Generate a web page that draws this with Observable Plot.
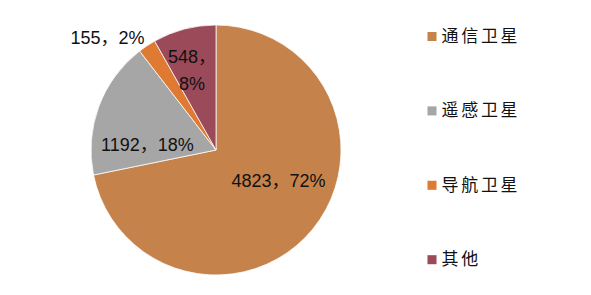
<!DOCTYPE html>
<html>
<head>
<meta charset="utf-8">
<script src="https://cdn.jsdelivr.net/npm/d3@7"></script>
<script src="https://cdn.jsdelivr.net/npm/@observablehq/plot@0.6"></script>
<style>
  html, body { margin: 0; padding: 0; background: #fff; }
</style>
</head>
<body>
<div id="chart"></div>
<script>
const categories = ["通信卫星", "遥感卫星", "导航卫星", "其他"];
const counts = [4823, 1192, 155, 548];
const percents = [72, 18, 2, 8];
const palette = ["#C5834B", "#A6A6A6", "#DF7A33", "#9B4A5A"];

const W = 591, H = 295;
const CX = 216, CY = 150, R = 125;

const data = categories.map((c, i) => ({category: c, value: counts[i], pct: percents[i]}));
const arcs = d3.pie().sort(null).value(d => d.value)(data);

// label placement (angle clockwise from top in degrees, radius factor)
const labelPlace = {
  "通信卫星": [114.3, 0.544],
  "遥感卫星": [276.6, 0.556],
  "导航卫星": [316.5, 1.267],
  "其他": [343.5, 0.69]
};
const labels = data.map(d => {
  const [a, rf] = labelPlace[d.category];
  const t = a * Math.PI / 180;
  const text = d.category === "其他" ? `${d.value}，\n${d.pct}%` : `${d.value}，${d.pct}%`;
  return {x: rf * Math.sin(t), y: rf * Math.cos(t), text};
});

const legendX = (431.5 - CX) / R;
const legend = categories.map((c, i) => ({category: c, x: legendX, y: (CY - (36 + i * 74.4)) / R}));

function pieMark(index, scales) {
  const cx = scales.x(0), cy = scales.y(0), r = scales.x(1) - scales.x(0);
  const color = scales.color || d3.scaleOrdinal(categories, palette);
  const g = d3.create("svg:g").attr("transform", `translate(${cx},${cy})`);
  g.selectAll("path").data(arcs).join("path")
    .attr("d", d3.arc().innerRadius(0).outerRadius(r))
    .attr("fill", d => color(d.data.category))
    .attr("stroke", "#ffffff")
    .attr("stroke-width", 0.75);
  return g.node();
}

const chart = Plot.plot({
  width: W,
  height: H,
  margin: 0,
  x: {domain: [-CX / R, (W - CX) / R], axis: null},
  y: {domain: [-(H - CY) / R, CY / R], axis: null},
  color: {domain: categories, range: palette},
  style: {background: "#fff", fontFamily: "'Liberation Sans', 'Noto Sans CJK SC', sans-serif"},
  marks: [
    pieMark,
    Plot.text(labels, {x: "x", y: "y", text: "text", fontSize: 18, fill: "#111", lineHeight: 1.5,
      fontFamily: "'Liberation Sans', 'Noto Sans CJK SC', sans-serif"}),
    Plot.dot(legend, {x: "x", y: "y", fill: "category", symbol: "square", r: 5.1}),
    Plot.text(legend, {x: "x", y: "y", text: "category", dx: 9.5, textAnchor: "start", fontSize: 17,
      fill: "#111", fontFamily: "'Noto Sans CJK SC', sans-serif"})
  ]
});
d3.select(chart).selectAll("text")
  .filter(function() { return categories.includes(this.textContent); })
  .style("letter-spacing", "2.7px");
document.getElementById("chart").appendChild(chart);
</script>
</body>
</html>
